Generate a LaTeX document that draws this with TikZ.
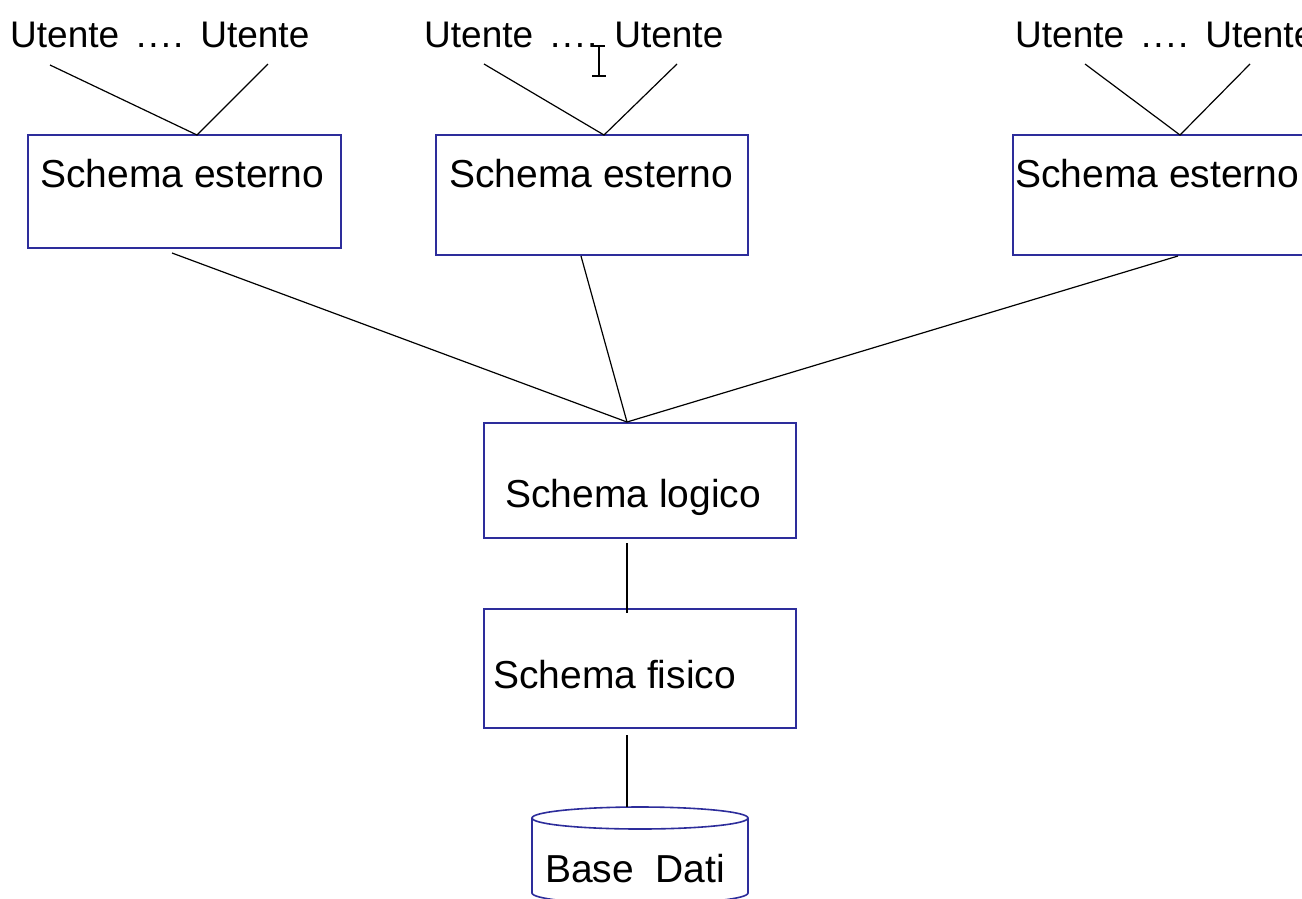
\documentclass[tikz,border=0pt]{standalone}
\usepackage{fontspec}
\setmainfont{Liberation Sans}
\definecolor{boxblue}{RGB}{45,45,155}
% a user pair with its spaced dots
\newcommand{\userpair}{Utente\hspace{17pt}.\kern2pt.\kern2pt.\kern2pt.\hspace{17pt}Utente}
\begin{document}
\begin{tikzpicture}[x=1pt,y=-1pt,
  box/.style={draw=boxblue, line width=1.6pt, rectangle, inner sep=0pt},
  link/.style={draw=black, line width=1.2pt},
  lbl/.style={anchor=base west, inner sep=0pt, font=\fontsize{39}{45}\selectfont},
  usr/.style={anchor=base west, inner sep=0pt, font=\fontsize{37}{43}\selectfont}]
\useasboundingbox (0,0) rectangle (1302,898);
\clip (0,0) rectangle (1302,898);

% boxes
\node[box, minimum width=313pt, minimum height=113pt] (se1) at (184.5,191.5) {};
\node[box, minimum width=312pt, minimum height=120pt] (se2) at (592,195) {};
\node[box, minimum width=312pt, minimum height=120pt] (se3) at (1169,195) {};
\node[box, minimum width=312pt, minimum height=115pt] (lg) at (640,480.5) {};
\node[box, minimum width=312pt, minimum height=119pt] (fs) at (640,668.5) {};

% database cylinder
\draw[boxblue, line width=1.6pt] (532,818) -- (532,893) arc[start angle=180, end angle=360, x radius=108, y radius=-11] -- (748,818);
\draw[boxblue, line width=1.6pt, fill=white] (640,818) ellipse[x radius=108, y radius=11];

% texts
\node[usr] (u1) at (10,47) {\userpair};
\node[usr] (u2) at (424,47) {\userpair};
\node[usr] (u3) at (1015,47) {\userpair};
\node[lbl] (se1t) at (40,187) {Schema esterno};
\node[lbl] (se2t) at (449,187) {Schema esterno};
\node[lbl] (se3t) at (1015,187) {Schema esterno};
\node[lbl] (lgt) at (505,507) {Schema logico};
\node[lbl] (fst) at (493,688) {Schema fisico};
\node[lbl] (db) at (545,882) {Base\ \ Dati};

% connection points
\coordinate (u1a) at (50,65);   \coordinate (u1b) at (268,64);
\coordinate (u2a) at (484,64);  \coordinate (u2b) at (677,64);
\coordinate (u3a) at (1085,64); \coordinate (u3b) at (1250,64);
\coordinate (se1in) at (197,135);  \coordinate (se2in) at (604,135);  \coordinate (se3in) at (1180,135);
\coordinate (se1out) at (172,253); \coordinate (se2out) at (581,256); \coordinate (se3out) at (1178,256);
\coordinate (lgin) at (627,422);   \coordinate (lgout) at (627,543);
\coordinate (fsin) at (627,613);   \coordinate (fsout) at (627,735);
\coordinate (dbin) at (627,807);

% connectors
\draw[link] (u1a) -- (se1in) -- (u1b);
\draw[link] (u2a) -- (se2in) -- (u2b);
\draw[link] (u3a) -- (se3in) -- (u3b);
\draw[link] (se1out) -- (lgin);
\draw[link] (se2out) -- (lgin);
\draw[link] (se3out) -- (lgin);
\draw[link] (lgout) -- (fsin);
\draw[link] (fsout) -- (dbin);

% text cursor
\draw[line width=1.4pt] (599,46) -- (599,76)
  (593,46) -- (605,46) (592,76) -- (606,76);
\end{tikzpicture}
\end{document}
